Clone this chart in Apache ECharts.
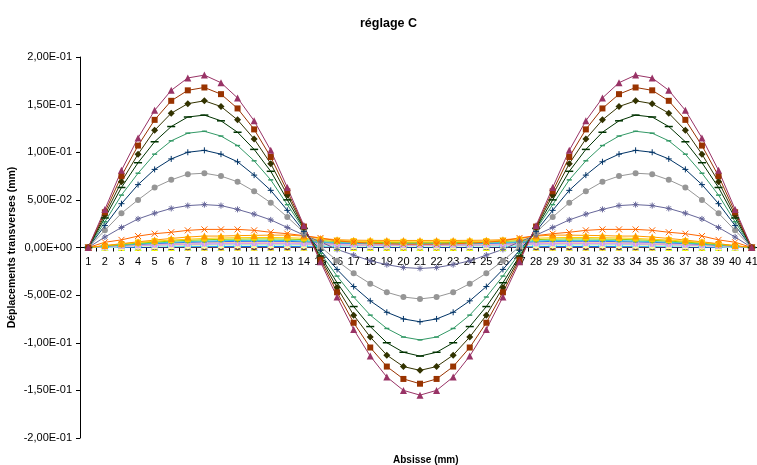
<!DOCTYPE html>
<html>
<head>
<meta charset="utf-8">
<script src="https://cdn.jsdelivr.net/npm/echarts@6/dist/echarts.min.js"></script>
<style>html,body{margin:0;padding:0;background:#fff}#c{width:757px;height:465px}</style>
</head>
<body>
<div id="c"></div>
<script>
const categories = ['1','2','3','4','5','6','7','8','9','10','11','12','13','14','15','16','17','18','19','20','21','22','23','24','25','26','27','28','29','30','31','32','33','34','35','36','37','38','39','40','41'];
const yTicks = [-0.2, -0.15, -0.1, -0.05, 0, 0.05, 0.1, 0.15, 0.2];

const s1 = [0,0,0,0,0,0,0,0,0,0,0,0,0,0,0,0,0,0,0,0,0,0,0,0,0,0,0,0,0,0,0,0,0,0,0,0,0,0,0,0,0];
const s2 = [0,0,0,0,0.0001,0.0001,0.0001,0.0001,0.0001,0.0001,0.0001,0.0001,0.0001,0.0001,0.0001,0.0001,0.0001,0.0001,0.0001,0.0001,0.0001,0.0001,0.0001,0.0001,0.0001,0.0001,0.0001,0.0001,0.0001,0.0001,0.0001,0.0001,0.0001,0.0001,0.0001,0.0001,0.0001,0,0,0,0];
const s3 = [0,0,0.0001,0.0001,0.0001,0.0001,0.0002,0.0002,0.0002,0.0002,0.0002,0.0002,0.0002,0.0002,0.0002,0.0001,0.0001,0.0001,0.0001,0.0001,0.0001,0.0001,0.0001,0.0001,0.0001,0.0001,0.0002,0.0002,0.0002,0.0002,0.0002,0.0002,0.0002,0.0002,0.0002,0.0001,0.0001,0.0001,0.0001,0,0];
const s4 = [0,0.0001,0.0001,0.0002,0.0002,0.0002,0.0002,0.0003,0.0003,0.0003,0.0003,0.0003,0.0003,0.0003,0.0002,0.0002,0.0002,0.0002,0.0002,0.0002,0.0002,0.0002,0.0002,0.0002,0.0002,0.0002,0.0002,0.0003,0.0003,0.0003,0.0003,0.0003,0.0003,0.0003,0.0002,0.0002,0.0002,0.0002,0.0001,0.0001,0];
const s5 = [0,0.0001,0.0001,0.0002,0.0003,0.0003,0.0003,0.0004,0.0004,0.0004,0.0004,0.0004,0.0004,0.0004,0.0003,0.0003,0.0003,0.0002,0.0002,0.0002,0.0002,0.0002,0.0002,0.0002,0.0003,0.0003,0.0003,0.0004,0.0004,0.0004,0.0004,0.0004,0.0004,0.0004,0.0003,0.0003,0.0003,0.0002,0.0001,0.0001,0];
const s6 = [0,0.0001,0.0002,0.0003,0.0004,0.0004,0.0005,0.0005,0.0006,0.0006,0.0006,0.0006,0.0006,0.0006,0.0005,0.0004,0.0004,0.0004,0.0003,0.0003,0.0003,0.0003,0.0003,0.0004,0.0004,0.0004,0.0005,0.0006,0.0006,0.0006,0.0006,0.0006,0.0006,0.0005,0.0005,0.0004,0.0004,0.0003,0.0002,0.0001,0];
const s7 = [0,0.0002,0.0003,0.0005,0.0006,0.0007,0.0007,0.0008,0.0009,0.0009,0.0009,0.0009,0.0009,0.0008,0.0007,0.0006,0.0006,0.0005,0.0005,0.0005,0.0005,0.0005,0.0005,0.0005,0.0006,0.0006,0.0007,0.0008,0.0009,0.0009,0.0009,0.0009,0.0009,0.0008,0.0007,0.0007,0.0006,0.0005,0.0003,0.0002,0];
const s8 = [0,0.0002,0.0004,0.0006,0.0008,0.0009,0.0010,0.0011,0.0011,0.0012,0.0012,0.0012,0.0012,0.0011,0.0010,0.0008,0.0008,0.0007,0.0007,0.0007,0.0007,0.0007,0.0007,0.0007,0.0008,0.0008,0.0010,0.0011,0.0012,0.0012,0.0012,0.0012,0.0011,0.0011,0.0010,0.0009,0.0008,0.0006,0.0004,0.0002,0];
const s9 = [0,0.0003,0.0006,0.0008,0.0010,0.0012,0.0013,0.0014,0.0015,0.0016,0.0016,0.0016,0.0016,0.0015,0.0013,0.0011,0.0010,0.0010,0.0009,0.0009,0.0009,0.0009,0.0009,0.0010,0.0010,0.0011,0.0013,0.0015,0.0016,0.0016,0.0016,0.0016,0.0015,0.0014,0.0013,0.0012,0.0010,0.0008,0.0006,0.0003,0];
const s10 = [0,0.0004,0.0007,0.0010,0.0013,0.0015,0.0017,0.0018,0.0019,0.0020,0.0020,0.0020,0.0020,0.0018,0.0016,0.0014,0.0013,0.0012,0.0012,0.0011,0.0011,0.0011,0.0012,0.0012,0.0013,0.0014,0.0016,0.0018,0.0020,0.0020,0.0020,0.0020,0.0019,0.0018,0.0017,0.0015,0.0013,0.0010,0.0007,0.0004,0];
const s11 = [0,0.0005,0.0009,0.0013,0.0016,0.0019,0.0021,0.0023,0.0024,0.0025,0.0025,0.0025,0.0025,0.0023,0.0020,0.0018,0.0016,0.0015,0.0015,0.0014,0.0014,0.0014,0.0015,0.0015,0.0016,0.0018,0.0020,0.0023,0.0025,0.0025,0.0025,0.0025,0.0024,0.0023,0.0021,0.0019,0.0016,0.0013,0.0009,0.0005,0];
const s12 = [0,0.0005,0.0011,0.0015,0.0019,0.0022,0.0025,0.0027,0.0029,0.0029,0.0030,0.0030,0.0029,0.0028,0.0024,0.0021,0.0019,0.0018,0.0017,0.0017,0.0017,0.0017,0.0017,0.0018,0.0019,0.0021,0.0024,0.0028,0.0029,0.0030,0.0030,0.0029,0.0029,0.0027,0.0025,0.0022,0.0019,0.0015,0.0011,0.0005,0];
const s13 = [0,0.0006,0.0013,0.0018,0.0023,0.0027,0.0030,0.0032,0.0034,0.0035,0.0036,0.0036,0.0035,0.0033,0.0029,0.0025,0.0023,0.0022,0.0021,0.0021,0.0021,0.0021,0.0021,0.0022,0.0023,0.0025,0.0029,0.0033,0.0035,0.0036,0.0036,0.0035,0.0034,0.0032,0.0030,0.0027,0.0023,0.0018,0.0013,0.0006,0];
const s14 = [0,0.0008,0.0015,0.0021,0.0026,0.0031,0.0035,0.0038,0.0040,0.0041,0.0042,0.0042,0.0041,0.0039,0.0034,0.0029,0.0027,0.0025,0.0024,0.0024,0.0024,0.0024,0.0024,0.0025,0.0027,0.0029,0.0034,0.0039,0.0041,0.0042,0.0042,0.0041,0.0040,0.0038,0.0035,0.0031,0.0026,0.0021,0.0015,0.0008,0];
const s15 = [0,0.0009,0.0017,0.0024,0.0030,0.0036,0.0040,0.0043,0.0046,0.0047,0.0048,0.0048,0.0047,0.0044,0.0038,0.0034,0.0031,0.0029,0.0028,0.0027,0.0027,0.0027,0.0028,0.0029,0.0031,0.0034,0.0038,0.0044,0.0047,0.0048,0.0048,0.0047,0.0046,0.0043,0.0040,0.0036,0.0030,0.0024,0.0017,0.0009,0];
const s16 = [0,0.0010,0.0019,0.0028,0.0035,0.0041,0.0046,0.0050,0.0052,0.0054,0.0055,0.0055,0.0054,0.0051,0.0044,0.0039,0.0035,0.0033,0.0032,0.0031,0.0031,0.0031,0.0032,0.0033,0.0035,0.0039,0.0044,0.0051,0.0054,0.0055,0.0055,0.0054,0.0052,0.0050,0.0046,0.0041,0.0035,0.0028,0.0019,0.0010,0];
const s17 = [0,0.0012,0.0023,0.0033,0.0041,0.0048,0.0054,0.0059,0.0062,0.0064,0.0065,0.0065,0.0064,0.0060,0.0052,0.0046,0.0042,0.0039,0.0038,0.0037,0.0037,0.0037,0.0038,0.0039,0.0042,0.0046,0.0052,0.0060,0.0064,0.0065,0.0065,0.0064,0.0062,0.0059,0.0054,0.0048,0.0041,0.0033,0.0023,0.0012,0];
const s18 = [0,0.0014,0.0026,0.0038,0.0047,0.0056,0.0062,0.0068,0.0071,0.0074,0.0075,0.0075,0.0074,0.0069,0.0060,0.0053,0.0048,0.0045,0.0044,0.0043,0.0043,0.0043,0.0044,0.0045,0.0048,0.0053,0.0060,0.0069,0.0074,0.0075,0.0075,0.0074,0.0071,0.0068,0.0062,0.0056,0.0047,0.0038,0.0026,0.0014,0];
const s19 = [0,0.0016,0.0032,0.0045,0.0057,0.0067,0.0075,0.0081,0.0086,0.0088,0.0090,0.0090,0.0088,0.0083,0.0072,0.0063,0.0058,0.0054,0.0052,0.0051,0.0051,0.0051,0.0052,0.0054,0.0058,0.0063,0.0072,0.0083,0.0088,0.0090,0.0090,0.0088,0.0086,0.0081,0.0075,0.0067,0.0057,0.0045,0.0032,0.0016,0];
const s20 = [0,0.0019,0.0037,0.0053,0.0066,0.0078,0.0087,0.0095,0.0100,0.0103,0.0105,0.0105,0.0103,0.0097,0.0084,0.0074,0.0067,0.0063,0.0061,0.0060,0.0060,0.0060,0.0061,0.0063,0.0067,0.0074,0.0084,0.0097,0.0103,0.0105,0.0105,0.0103,0.0100,0.0095,0.0087,0.0078,0.0066,0.0053,0.0037,0.0019,0];
const s21 = [0,0.002,0.004,0.006,0.0078,0.0095,0.011,0.012,0.012,0.0125,0.0127,0.013,0.013,0.012,0.0095,0.0082,0.0077,0.0075,0.0074,0.0074,0.0074,0.0074,0.0074,0.0075,0.0077,0.0082,0.0095,0.012,0.013,0.013,0.0127,0.0125,0.012,0.012,0.011,0.0095,0.0078,0.006,0.004,0.002,0];
const s22 = [0,0.0055,0.008,0.012,0.0145,0.016,0.018,0.019,0.019,0.019,0.018,0.016,0.0145,0.0125,0.010,0.007,0.0055,0.0045,0.004,0.0035,0.0035,0.0035,0.004,0.0045,0.0055,0.007,0.010,0.0125,0.0145,0.016,0.018,0.019,0.019,0.019,0.018,0.016,0.0145,0.012,0.008,0.0055,0];
const s23 = [0,0.011,0.021,0.030,0.036,0.041,0.044,0.045,0.044,0.040,0.035,0.029,0.021,0.013,0.006,-0.002,-0.008,-0.014,-0.018,-0.021,-0.022,-0.021,-0.018,-0.014,-0.008,-0.002,0.006,0.013,0.021,0.029,0.035,0.040,0.044,0.045,0.044,0.041,0.036,0.030,0.021,0.011,0];
const s24 = [0,0.018,0.036,0.050,0.063,0.071,0.077,0.078,0.075,0.069,0.059,0.047,0.032,0.016,0.001,-0.014,-0.027,-0.038,-0.047,-0.052,-0.054,-0.052,-0.047,-0.038,-0.027,-0.014,0.001,0.016,0.032,0.047,0.059,0.069,0.075,0.078,0.077,0.071,0.063,0.050,0.036,0.018,0];
const s25 = [0,0.023,0.046,0.066,0.082,0.093,0.100,0.102,0.098,0.090,0.076,0.060,0.039,0.017,-0.003,-0.023,-0.041,-0.056,-0.068,-0.075,-0.078,-0.075,-0.068,-0.056,-0.041,-0.023,-0.003,0.017,0.039,0.060,0.076,0.090,0.098,0.102,0.100,0.093,0.082,0.066,0.046,0.023,0];
const s26 = [0,0.027,0.055,0.078,0.098,0.112,0.120,0.122,0.117,0.107,0.091,0.071,0.045,0.019,-0.006,-0.030,-0.052,-0.071,-0.085,-0.094,-0.097,-0.094,-0.085,-0.071,-0.052,-0.030,-0.006,0.019,0.045,0.071,0.091,0.107,0.117,0.122,0.120,0.112,0.098,0.078,0.055,0.027,0];
const s27 = [0,0.031,0.063,0.089,0.111,0.127,0.137,0.139,0.133,0.121,0.103,0.080,0.050,0.020,-0.009,-0.037,-0.062,-0.083,-0.100,-0.110,-0.114,-0.110,-0.100,-0.083,-0.062,-0.037,-0.009,0.020,0.050,0.080,0.103,0.121,0.133,0.139,0.137,0.127,0.111,0.089,0.063,0.031,0];
const s28 = [0,0.034,0.069,0.098,0.123,0.141,0.151,0.154,0.148,0.134,0.114,0.088,0.055,0.021,-0.011,-0.042,-0.071,-0.094,-0.113,-0.125,-0.129,-0.125,-0.113,-0.094,-0.071,-0.042,-0.011,0.021,0.055,0.088,0.114,0.134,0.148,0.154,0.151,0.141,0.123,0.098,0.069,0.034,0];
const s29 = [0,0.037,0.075,0.107,0.134,0.154,0.165,0.168,0.161,0.146,0.124,0.095,0.059,0.022,-0.013,-0.047,-0.079,-0.105,-0.125,-0.138,-0.143,-0.138,-0.125,-0.105,-0.079,-0.047,-0.013,0.022,0.059,0.095,0.124,0.146,0.161,0.168,0.165,0.154,0.134,0.107,0.075,0.037,0];
const s30 = [0,0.040,0.081,0.115,0.144,0.165,0.178,0.181,0.173,0.157,0.133,0.102,0.063,0.023,-0.015,-0.052,-0.086,-0.114,-0.136,-0.150,-0.155,-0.150,-0.136,-0.114,-0.086,-0.052,-0.015,0.023,0.063,0.102,0.133,0.157,0.173,0.181,0.178,0.165,0.144,0.115,0.081,0.040,0];

const seriesData = [s1,s2,s3,s4,s5,s6,s7,s8,s9,s10,s11,s12,s13,s14,s15,s16,s17,s18,s19,s20,s21,s22,s23,s24,s25,s26,s27,s28,s29,s30];
const seriesNames = seriesData.map((d, i) => 'Série' + (i + 1));

// styles (kept separate from data)
const colors = ['#000080','#FF00FF','#FFFF00','#00FFFF','#800080','#800000','#008080','#0000FF','#00CCFF','#CCFFFF',
  '#CCFFCC','#FFFF99','#99CCFF','#FF99CC','#CC99FF','#FFCC99','#3366FF','#33CCCC','#99CC00','#FFCC00',
  '#FF9900','#FF6600','#666699','#969696','#003366','#339966','#003300','#333300','#993300','#993366'];
const markerCycle = ['diamond','square','triangle','x','star','circle','plus','dash','longdash'];
const symbolDefs = {
  diamond: {symbol: 'diamond', size: 7, filled: true},
  square: {symbol: 'rect', size: 6, filled: true},
  triangle: {symbol: 'triangle', size: 7, filled: true},
  x: {symbol: 'path://M0,0L10,10M10,0L0,10', size: 6, filled: false},
  star: {symbol: 'path://M5,0L5,10M0,5L10,5M1.5,1.5L8.5,8.5M8.5,1.5L1.5,8.5', size: 6, filled: false},
  circle: {symbol: 'circle', size: 6, filled: true},
  plus: {symbol: 'path://M5,0L5,10M0,5L10,5', size: 6, filled: false},
  dash: {symbol: 'rect', size: [5, 1.5], filled: true},
  longdash: {symbol: 'rect', size: [8, 1.5], filled: true}
};

function fmtSci(v) {
  if (Math.abs(v) < 1e-12) return '0,00E+00';
  const s = v.toExponential(2);
  const parts = s.split('e');
  const e = parseInt(parts[1], 10);
  const sign = e < 0 ? '-' : '+';
  const n = Math.abs(e);
  return parts[0].replace('.', ',') + 'E' + sign + (n < 10 ? '0' + n : '' + n);
}

const FONT = '"Liberation Sans", Arial, sans-serif';

const series = seriesData.map((d, i) => {
  const m = symbolDefs[markerCycle[i % 9]];
  const c = colors[i];
  return {
    name: seriesNames[i],
    type: 'line',
    data: d,
    symbol: m.symbol,
    symbolSize: m.size,
    showAllSymbol: true,
    lineStyle: {color: c, width: 1},
    itemStyle: m.filled ? {color: c, borderWidth: 0} : {color: 'none', borderColor: c, borderWidth: 1},
    emphasis: {disabled: true},
    z: 2
  };
});

const GRID_TOP = 57, GRID_H = 381;

const chart = echarts.init(document.getElementById('c'), null, {renderer: 'canvas'});
chart.setOption({
  animation: false,
  backgroundColor: '#ffffff',
  textStyle: {fontFamily: FONT},
  title: [
    {text: 'réglage C', left: 355, top: 12, textStyle: {fontSize: 12.5, fontWeight: 'bold', color: '#000', fontFamily: FONT}},
    {text: 'Absisse (mm)', left: 388, top: 450, textStyle: {fontSize: 10, fontWeight: 'bold', color: '#000', fontFamily: FONT}}
  ],
  grid: {left: 80, top: GRID_TOP, width: 680, height: GRID_H, containLabel: false, outerBoundsMode: 'none'},
  xAxis: {
    type: 'category',
    data: categories,
    boundaryGap: true,
    position: 'bottom',
    offset: -GRID_H / 2,
    axisLine: {show: true, onZero: false, lineStyle: {color: '#000', width: 1}},
    axisTick: {show: true, interval: 0, length: 4, lineStyle: {color: '#000'}},
    axisLabel: {interval: 0, fontSize: 11, color: '#000', margin: 9, fontFamily: FONT},
    splitLine: {show: false}
  },
  yAxis: {
    type: 'value',
    min: yTicks[0],
    max: yTicks[yTicks.length - 1],
    interval: 0.05,
    name: 'Déplacements transverses (mm)',
    nameLocation: 'middle',
    nameGap: 62,
    nameMoveOverlap: false,
    nameRotate: 90,
    nameTextStyle: {fontSize: 10.5, fontWeight: 'bold', color: '#000', fontFamily: FONT},
    axisLine: {show: true, lineStyle: {color: '#000', width: 1}},
    axisTick: {show: true, length: 4, lineStyle: {color: '#000'}},
    axisLabel: {fontSize: 11, color: '#000', margin: 8, formatter: fmtSci, fontFamily: FONT},
    splitLine: {show: false}
  },
  series: series
});
</script>
</body>
</html>
